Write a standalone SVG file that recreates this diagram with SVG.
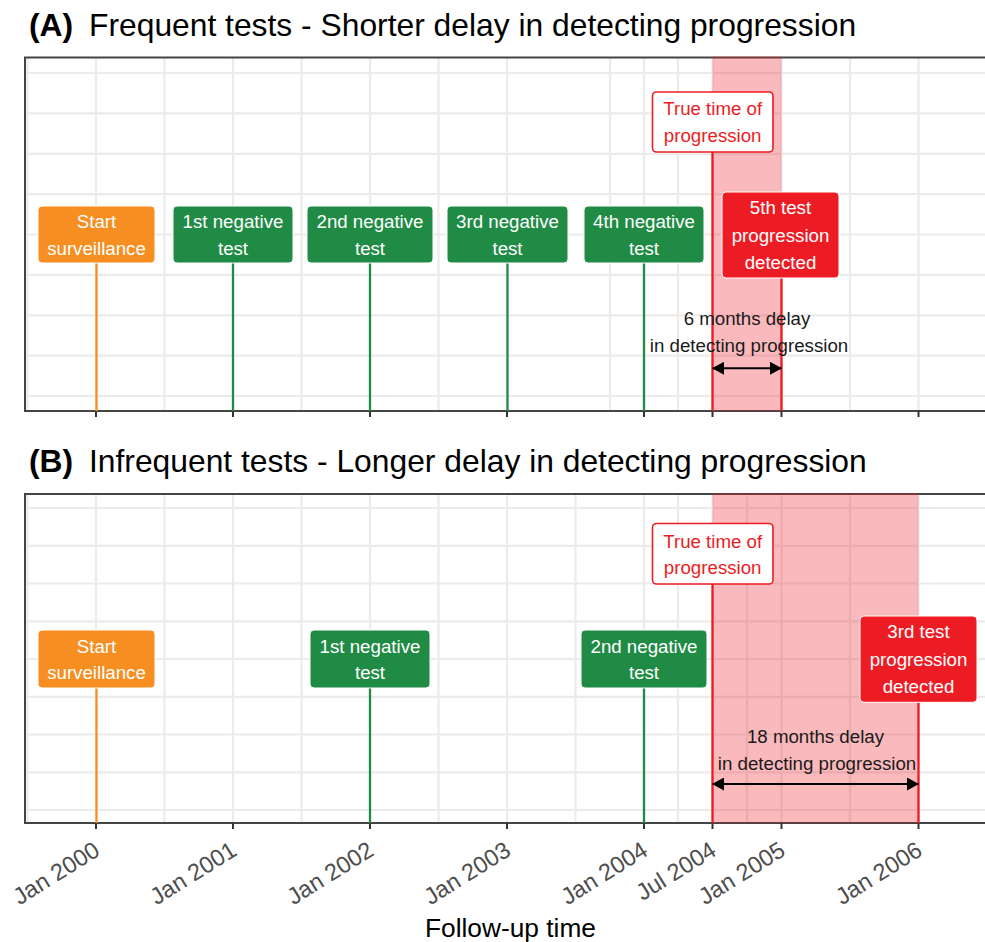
<svg xmlns="http://www.w3.org/2000/svg" width="985" height="942" viewBox="0 0 985 942">
<style>
text{font-family:"Liberation Sans",Arial,sans-serif}
.ttl{font-size:31.8px;fill:#000}
.ttlb{font-size:31.8px;fill:#000;font-weight:bold}
.lbl{font-size:18.7px;text-anchor:middle}
.w{fill:#fff}
.r{fill:#ED1C24}
.ann{font-size:18.7px;text-anchor:middle;fill:#1a1a1a}
.tick{font-size:23.5px;fill:#4D4D4D;text-anchor:end}
.axt{font-size:26.3px;fill:#000;text-anchor:middle}
.grid line{stroke:#EBEBEB;stroke-width:2.2}
.bor{fill:none;stroke:#444;stroke-width:2}
.tk line{stroke:#333;stroke-width:2}
.or{fill:#F68E22;stroke:#fff;stroke-width:1}
.gr{fill:#1F8B45;stroke:#fff;stroke-width:1}
.rd{fill:#ED1C24;stroke:#fff;stroke-width:1}
.wb{fill:#fff;stroke:#ED1C24;stroke-width:1.6}
.band{fill:#ED1C24;fill-opacity:0.3}
.so{stroke:#F68E22;stroke-width:2.3}
.sg{stroke:#1F8B45;stroke-width:2.3}
.sr{stroke:#ED1C24;stroke-width:2.3}
.arr{stroke:#000;stroke-width:2;marker-start:url(#ah);marker-end:url(#ah)}
</style>
<defs>
<marker id="ah" viewBox="0 0 12 13" refX="11.5" refY="6.5" markerWidth="12" markerHeight="13" markerUnits="userSpaceOnUse" orient="auto-start-reverse">
<path d="M0,0 L12,6.5 L0,13 Z" fill="#000"/>
</marker>
<clipPath id="cA"><rect x="25" y="57.5" width="960" height="353.5"/></clipPath>
<clipPath id="cB"><rect x="25" y="494" width="960" height="329"/></clipPath>
</defs>
<rect width="985" height="942" fill="#fff"/>

<!-- Panel A -->
<g id="panelA">
<text class="ttlb" x="29" y="35.5">(A)</text>
<text class="ttl" x="89" y="35.5">Frequent tests - Shorter delay in detecting progression</text>
<g class="grid" clip-path="url(#cA)">
<line x1="25" x2="985" y1="73" y2="73"/><line x1="25" x2="985" y1="113.4" y2="113.4"/>
<line x1="25" x2="985" y1="153.8" y2="153.8"/><line x1="25" x2="985" y1="194.1" y2="194.1"/>
<line x1="25" x2="985" y1="234.5" y2="234.5"/><line x1="25" x2="985" y1="274.9" y2="274.9"/>
<line x1="25" x2="985" y1="315.3" y2="315.3"/><line x1="25" x2="985" y1="355.6" y2="355.6"/>
<line x1="25" x2="985" y1="396" y2="396"/>
<line x1="27.5" x2="27.5" y1="57" y2="411"/><line x1="96" x2="96" y1="57" y2="411"/>
<line x1="164.5" x2="164.5" y1="57" y2="411"/><line x1="233" x2="233" y1="57" y2="411"/>
<line x1="301.5" x2="301.5" y1="57" y2="411"/><line x1="370" x2="370" y1="57" y2="411"/>
<line x1="438.5" x2="438.5" y1="57" y2="411"/><line x1="507" x2="507" y1="57" y2="411"/>
<line x1="610" x2="610" y1="57" y2="411"/><line x1="644" x2="644" y1="57" y2="411"/>
<line x1="678" x2="678" y1="57" y2="411"/><line x1="712.5" x2="712.5" y1="57" y2="411"/>
<line x1="781.5" x2="781.5" y1="57" y2="411"/><line x1="850" x2="850" y1="57" y2="411"/>
<line x1="918.5" x2="918.5" y1="57" y2="411"/>
</g>
<rect class="bor" x="25" y="57.5" width="975" height="353.5"/>
<rect class="band" x="712.5" y="56.5" width="69" height="354.5"/>
<g class="tk">
<line x1="96" x2="96" y1="411" y2="417"/><line x1="233" x2="233" y1="411" y2="417"/>
<line x1="370" x2="370" y1="411" y2="417"/><line x1="507" x2="507" y1="411" y2="417"/>
<line x1="644" x2="644" y1="411" y2="417"/><line x1="712.5" x2="712.5" y1="411" y2="417"/>
<line x1="781.5" x2="781.5" y1="411" y2="417"/><line x1="918.5" x2="918.5" y1="411" y2="417"/>
</g>
</g>

<!-- Panel B -->
<g id="panelB">
<text class="ttlb" x="29" y="471.5">(B)</text>
<text class="ttl" x="89" y="471.5">Infrequent tests - Longer delay in detecting progression</text>
<g class="grid" clip-path="url(#cB)">
<line x1="25" x2="985" y1="508" y2="508"/><line x1="25" x2="985" y1="545.8" y2="545.8"/>
<line x1="25" x2="985" y1="583.5" y2="583.5"/><line x1="25" x2="985" y1="621.3" y2="621.3"/>
<line x1="25" x2="985" y1="659" y2="659"/><line x1="25" x2="985" y1="696.8" y2="696.8"/>
<line x1="25" x2="985" y1="734.5" y2="734.5"/><line x1="25" x2="985" y1="772.3" y2="772.3"/>
<line x1="25" x2="985" y1="810" y2="810"/>
<line x1="27.5" x2="27.5" y1="494" y2="823"/><line x1="96" x2="96" y1="494" y2="823"/>
<line x1="164.5" x2="164.5" y1="494" y2="823"/><line x1="233" x2="233" y1="494" y2="823"/>
<line x1="301.5" x2="301.5" y1="494" y2="823"/><line x1="370" x2="370" y1="494" y2="823"/>
<line x1="438.5" x2="438.5" y1="494" y2="823"/><line x1="507" x2="507" y1="494" y2="823"/>
<line x1="575.5" x2="575.5" y1="494" y2="823"/><line x1="644" x2="644" y1="494" y2="823"/>
<line x1="678" x2="678" y1="494" y2="823"/><line x1="712.5" x2="712.5" y1="494" y2="823"/>
<line x1="747" x2="747" y1="494" y2="823"/><line x1="781.5" x2="781.5" y1="494" y2="823"/>
<line x1="850" x2="850" y1="494" y2="823"/><line x1="918.5" x2="918.5" y1="494" y2="823"/>
</g>
<rect class="bor" x="25" y="494" width="975" height="329"/>
<rect class="band" x="712.5" y="493" width="206" height="330"/>
<g class="tk">
<line x1="96" x2="96" y1="823" y2="829"/><line x1="233" x2="233" y1="823" y2="829"/>
<line x1="370" x2="370" y1="823" y2="829"/><line x1="507" x2="507" y1="823" y2="829"/>
<line x1="644" x2="644" y1="823" y2="829"/><line x1="712.5" x2="712.5" y1="823" y2="829"/>
<line x1="781.5" x2="781.5" y1="823" y2="829"/><line x1="918.5" x2="918.5" y1="823" y2="829"/>
</g>
<g id="xlabels">
<text class="tick" transform="translate(92.5,840) rotate(-32)" y="16.8">Jan 2000</text>
<text class="tick" transform="translate(229.5,840) rotate(-32)" y="16.8">Jan 2001</text>
<text class="tick" transform="translate(366.5,840) rotate(-32)" y="16.8">Jan 2002</text>
<text class="tick" transform="translate(503.5,840) rotate(-32)" y="16.8">Jan 2003</text>
<text class="tick" transform="translate(640.5,840) rotate(-32)" y="16.8">Jan 2004</text>
<text class="tick" transform="translate(709,840) rotate(-32)" y="16.8">Jul 2004</text>
<text class="tick" transform="translate(778,840) rotate(-32)" y="16.8">Jan 2005</text>
<text class="tick" transform="translate(915,840) rotate(-32)" y="16.8">Jan 2006</text>
</g>
<text class="axt" x="510.5" y="937">Follow-up time</text>
</g>

<!-- Connectors -->
<g id="connectors">
<line class="so" x1="96.5" x2="96.5" y1="263" y2="411"/>
<line class="sg" x1="233" x2="233" y1="263" y2="411"/>
<line class="sg" x1="370" x2="370" y1="263" y2="411"/>
<line class="sg" x1="507.5" x2="507.5" y1="263" y2="411"/>
<line class="sg" x1="644" x2="644" y1="263" y2="411"/>
<line class="sr" x1="712.5" x2="712.5" y1="152" y2="411"/>
<line class="sr" x1="781.5" x2="781.5" y1="278" y2="411"/>
<line class="arr" x1="712.5" x2="781.5" y1="368.3" y2="368.3"/>
<line class="so" x1="96.5" x2="96.5" y1="688" y2="823"/>
<line class="sg" x1="370" x2="370" y1="688" y2="823"/>
<line class="sg" x1="644" x2="644" y1="688" y2="823"/>
<line class="sr" x1="712.5" x2="712.5" y1="584" y2="823"/>
<line class="sr" x1="918.5" x2="918.5" y1="702" y2="823"/>
<line class="arr" x1="712.5" x2="918.5" y1="784" y2="784"/>
</g>

<!-- Nodes panel A -->
<g id="A_start"><rect class="or" x="38" y="206" width="117" height="57" rx="4"/>
<text class="lbl w" x="96.5" y="228.3">Start</text><text class="lbl w" x="96.5" y="255">surveillance</text></g>
<g id="A_neg1"><rect class="gr" x="173" y="206" width="120" height="57" rx="4"/>
<text class="lbl w" x="233" y="228.3">1st negative</text><text class="lbl w" x="233" y="255">test</text></g>
<g id="A_neg2"><rect class="gr" x="307" y="206" width="126" height="57" rx="4"/>
<text class="lbl w" x="370" y="228.3">2nd negative</text><text class="lbl w" x="370" y="255">test</text></g>
<g id="A_neg3"><rect class="gr" x="447" y="206" width="121" height="57" rx="4"/>
<text class="lbl w" x="507.5" y="228.3">3rd negative</text><text class="lbl w" x="507.5" y="255">test</text></g>
<g id="A_neg4"><rect class="gr" x="584" y="206" width="120" height="57" rx="4"/>
<text class="lbl w" x="644" y="228.3">4th negative</text><text class="lbl w" x="644" y="255">test</text></g>
<g id="A_true"><rect class="wb" x="652.5" y="92" width="120.5" height="60" rx="4"/>
<text class="lbl r" x="712.7" y="114.5">True time of</text><text class="lbl r" x="712.7" y="141.5">progression</text></g>
<g id="A_fifth"><rect class="rd" x="722" y="192" width="117" height="86" rx="4"/>
<text class="lbl w" x="780.5" y="214">5th test</text><text class="lbl w" x="780.5" y="241.5">progression</text><text class="lbl w" x="780.5" y="269">detected</text></g>
<g id="A_delay"><text class="ann" x="747" y="325">6 months delay</text><text class="ann" x="749" y="351.7">in detecting progression</text></g>

<!-- Nodes panel B -->
<g id="B_start"><rect class="or" x="38" y="630" width="117" height="58" rx="4"/>
<text class="lbl w" x="96.5" y="652.5">Start</text><text class="lbl w" x="96.5" y="679.3">surveillance</text></g>
<g id="B_neg1"><rect class="gr" x="310" y="630" width="120" height="58" rx="4"/>
<text class="lbl w" x="370" y="652.5">1st negative</text><text class="lbl w" x="370" y="679.3">test</text></g>
<g id="B_neg2"><rect class="gr" x="581" y="630" width="126" height="58" rx="4"/>
<text class="lbl w" x="644" y="652.5">2nd negative</text><text class="lbl w" x="644" y="679.3">test</text></g>
<g id="B_true"><rect class="wb" x="652.5" y="523.5" width="120.5" height="60.5" rx="4"/>
<text class="lbl r" x="712.7" y="547.5">True time of</text><text class="lbl r" x="712.7" y="574.3">progression</text></g>
<g id="B_third"><rect class="rd" x="860" y="616" width="117" height="86.3" rx="4"/>
<text class="lbl w" x="918.5" y="638.3">3rd test</text><text class="lbl w" x="918.5" y="665.7">progression</text><text class="lbl w" x="918.5" y="692.7">detected</text></g>
<g id="B_delay"><text class="ann" x="815.5" y="743.3">18 months delay</text><text class="ann" x="817" y="770">in detecting progression</text></g>
</svg>
